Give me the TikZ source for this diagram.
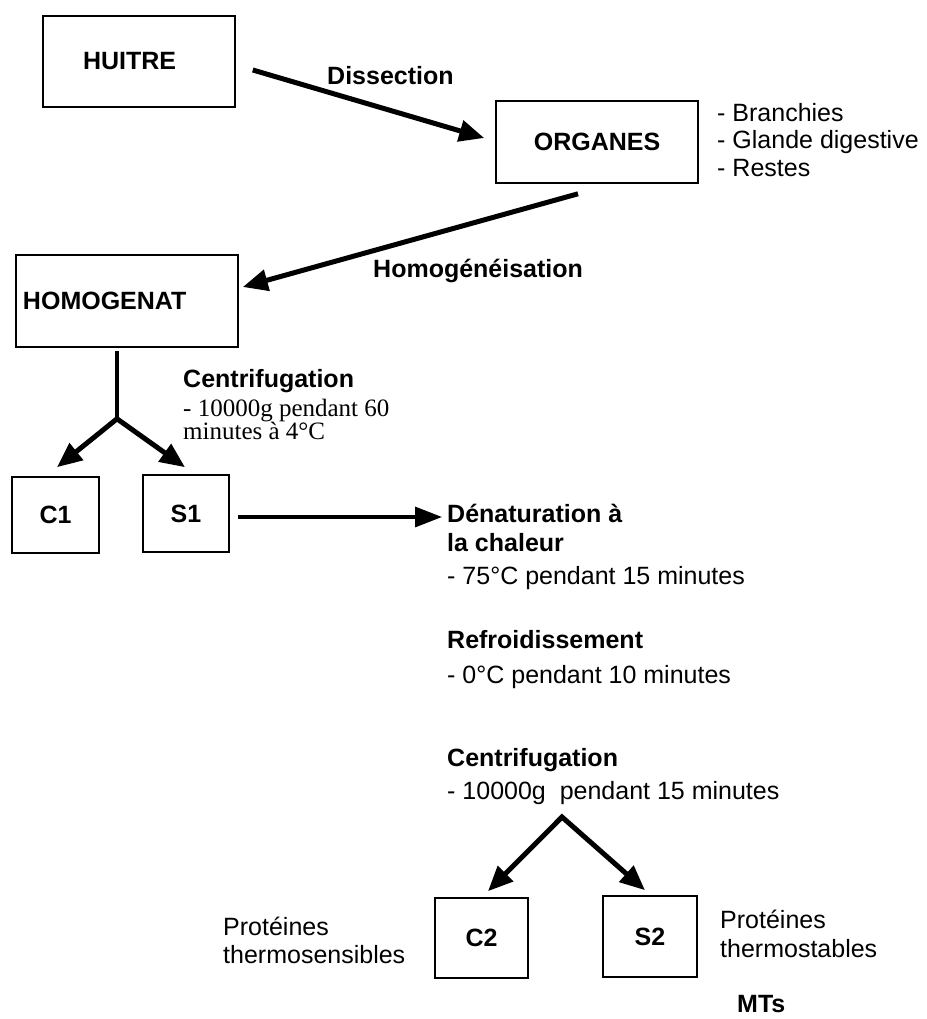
\documentclass[tikz,border=0pt]{standalone}
\usepackage{fontspec}
\setmainfont{Liberation Sans}
\newfontfamily\timesfont{Liberation Serif}
\usetikzlibrary{arrows.meta}

\begin{document}
\begin{tikzpicture}[x=1pt, y=-1pt,
        font=\fontsize{25}{27}\selectfont,
        boite/.style={draw, line width=1.6pt, inner sep=0pt, font=\fontsize{25}{27}\selectfont\bfseries},
        etiq/.style={anchor=base west, inner sep=0pt},
        titre/.style={etiq, font=\fontsize{25}{27}\selectfont\bfseries},
        serif/.style={etiq, font=\fontsize{25}{27}\timesfont},
        fleche/.style={line width=5pt, line join=miter, -{Triangle[length=25pt, width=21pt]}}]
    \useasboundingbox (0,0) rectangle (926,1019);

    % boites
    \node[boite, minimum height=91pt, text width=112pt, inner xsep=40pt] (huitre) at (139,61.5) {HUITRE};
    \node[boite, minimum width=202pt, minimum height=82pt] (organes) at (597,142) {ORGANES};
    \node[boite, minimum height=92pt, text width=208pt, inner xsep=7pt] (homogenat) at (127,301) {HOMOGENAT};
    \node[boite, minimum width=87pt, minimum height=76pt] (c1) at (55.5,515) {C1};
    \node[boite, minimum width=86pt, minimum height=77pt] (s1) at (186,513.5) {S1};
    \node[boite, minimum width=93pt, minimum height=80pt] (c2) at (481.5,938) {C2};
    \node[boite, minimum width=94pt, minimum height=81pt] (s2) at (650,936.5) {S2};

    % textes
    \node[titre] (dissection) at (327,85) {Dissection};
    \node[etiq] (branchies) at (717,122) {- Branchies};
    \node[etiq] (glande) at (717,149) {- Glande digestive};
    \node[etiq] (restes) at (717,176) {- Restes};
    \node[titre] (homog) at (373,277) {Homogénéisation};

    \node[titre] (centri1) at (183,387) {Centrifugation};
    \node[serif] (cond1a) at (183,416) {- 10000g pendant 60};
    \node[serif] (cond1b) at (183,439) {minutes à 4°C};

    \node[titre] (denat1) at (447,522) {Dénaturation à};
    \node[titre] (denat2) at (447,551) {la chaleur};
    \node[etiq] (denat3) at (447,584) {- 75°C pendant 15 minutes};
    \node[titre] (refroid1) at (447,648) {Refroidissement};
    \node[etiq] (refroid2) at (447,683) {- 0°C pendant 10 minutes};
    \node[titre] (centri2) at (447,766) {Centrifugation};
    \node[etiq] (cond2) at (447,799) {- 10000g\ \ pendant 15 minutes};

    \node[etiq] (sens1) at (223,935) {Protéines};
    \node[etiq] (sens2) at (223,963) {thermosensibles};
    \node[etiq] (stab1) at (720,928) {Protéines};
    \node[etiq] (stab2) at (720,957) {thermostables};
    \node[titre] (mts) at (737,1012) {MTs};

    % fleches
    \draw[fleche] ([xshift=17pt, yshift=-8.5pt]huitre.east) -- ([xshift=-11pt, yshift=4pt]organes.west);
    \draw[fleche] ([xshift=-19pt, yshift=-10pt]organes.south) -- ([xshift=4pt, yshift=14pt]homogenat.east);

    \path ([xshift=-10pt, yshift=-71pt]homogenat.south) coordinate (split1);
    \draw[line width=3.5pt] ([xshift=-10pt, yshift=-3pt]homogenat.south) -- (split1);
    \draw[fleche, {Triangle[length=25pt, width=21pt]}-{Triangle[length=25pt, width=21pt]}]
        ([xshift=1.5pt, yshift=9pt]c1.north) -- (split1) -- ([xshift=-1pt, yshift=7pt]s1.north);

    \draw[line width=3.3pt, -{Triangle[length=27pt, width=20pt]}]
        ([xshift=8pt, yshift=-3.5pt]s1.east) -- ([xshift=-5pt, yshift=5pt]denat1.base west);

    \path ([xshift=115pt, yshift=-18pt]cond2.base west) coordinate (split2);
    \draw[fleche, {Triangle[length=25pt, width=21pt]}-{Triangle[length=25pt, width=21pt]}]
        ([xshift=6.5pt, yshift=6pt]c2.north) -- (split2) -- ([xshift=-5pt, yshift=5pt]s2.north);
\end{tikzpicture}
\end{document}
